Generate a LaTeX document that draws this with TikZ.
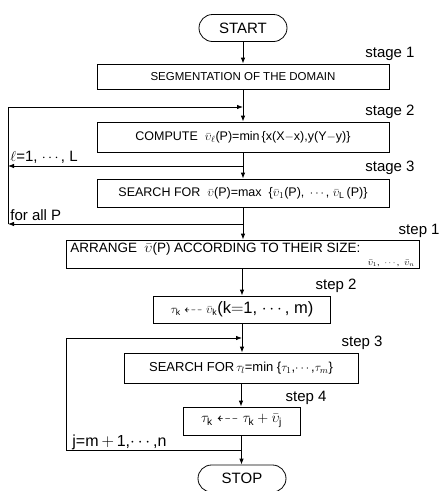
\documentclass[tikz,border=0pt]{standalone}
\usepackage{amsmath,amssymb}
\usepackage{fontspec}
\setmainfont{Liberation Sans}
\usetikzlibrary{arrows.meta}

\begin{document}
\begin{tikzpicture}[x=1pt,y=-1pt,
  line width=0.8pt,
  box/.style={draw, inner sep=0pt, font=\fontsize{11.5}{13}\selectfont},
  term/.style={draw, inner sep=0pt, rounded corners=13.5pt,
    minimum width=88pt, minimum height=27pt, font=\fontsize{15}{17}\selectfont},
  lab/.style={inner sep=0pt, font=\fontsize{15}{17}\selectfont},
  arr/.style={-{Latex[length=6pt,width=4.5pt]}}
]
\useasboundingbox (0,0) rectangle (445,491);

% main column
\node[term] (start) at (243,28) {START};
\node[box, minimum width=292pt, minimum height=25pt] (b1) at (243,76.5)
  {SEGMENTATION OF THE DOMAIN};
\node[box, minimum width=292pt, minimum height=30pt, font=\fontsize{12.5}{14}\selectfont] (b2) at (243,137)
  {COMPUTE\ \ $\bar{\upsilon}_\ell$(P)=min\,\{x(X$-$x),y(Y$-$y)\}};
\node[box, minimum width=292pt, minimum height=28pt, font=\fontsize{12.5}{14}\selectfont] (b3) at (243,193)
  {SEARCH FOR \ $\bar{\upsilon}$(P)=max \ \{$\bar{\upsilon}_1$(P), \,$\cdots$, $\bar{\upsilon}_{\mathrm L}$\,(P)\}};
\node[box, minimum width=353pt, minimum height=28pt] (b4) at (242.5,254) {};
\node[box, minimum width=177pt, minimum height=27pt] (b5) at (242,309.5)
  {\fontsize{12.5}{14}\selectfont$\tau_{\mathrm k}\dashleftarrow\bar{\upsilon}_{\mathrm k}$\fontsize{16.5}{18}\selectfont(k$=$1, $\cdots$, m)};
\node[box, minimum width=234pt, minimum height=30pt, font=\fontsize{13}{15}\selectfont] (b6) at (241,368)
  {SEARCH FOR$\,\tau_l$=min \{$\tau_1$,$\cdots$,$\tau_m$\}};
\node[box, minimum width=117pt, minimum height=28pt] (b7) at (241.5,421)
  {\fontsize{14.5}{16}\selectfont$\tau_{\mathrm k}\dashleftarrow\tau_{\mathrm k}+\bar{\upsilon}_{\mathrm j}$};
\node[term] (stop) at (242,478.5) {STOP};

% two-line text of the sorting box
\node[inner sep=0pt, anchor=base west, font=\fontsize{13.5}{15}\selectfont] (b4a) at (70,252)
  {\makebox[290pt][s]{ARRANGE \ $\bar{\upsilon}$(P) ACCORDING TO THEIR SIZE:}};
\node[inner sep=0pt, anchor=base east, font=\fontsize{9}{10}\selectfont] (b4b) at (415,265)
  {$\bar{\upsilon}_1$, \ $\cdots$, \ $\bar{\upsilon}_n$};

% stage / step labels
\node[lab, anchor=base east] (s1) at (415,57) {stage 1};
\node[lab, anchor=base east] (s2) at (415,115) {stage 2};
\node[lab, anchor=base east] (s3) at (415,171) {stage 3};
\node[lab, anchor=base east] (p1) at (440,234) {step 1};
\node[lab, anchor=base east] (p2) at (357,289) {step 2};
\node[lab, anchor=base east] (p3) at (383,346) {step 3};
\node[lab, anchor=base east] (p4) at (327,401) {step 4};

% loop labels
\node[lab, anchor=base west] (l1) at (10,161) {$\ell$=1, $\cdots$, L};
\node[lab, anchor=base west] (l2) at (10,220) {for all P};
\node[lab, anchor=base west, font=\fontsize{16}{18}\selectfont] (l3) at (72,446) {j=m$\,+\,$1,$\cdots$,n};

% flow connectors
\draw[arr] (start) -- (b1);
\draw[arr] (b1) -- (b2);
\draw[arr] (b2) -- (b3);
\draw[arr] (b3) -- (b3 |- b4.north);
\draw[arr] (b4.south -| b5) -- (b5);
\draw[arr] (b5) -- (b5 |- b6.north);
\draw[arr] (b6) -- (b6 |- b7.north);
\draw[arr] (b7) -- (b7 |- stop.north);

% outer loops of stages 2 and 3
\coordinate (ltop) at (8,107);
\coordinate (jtop) at (243,107);
\coordinate (lmid) at (8,166);
\coordinate (jmid) at (243,166);
\coordinate (lbot) at (8,224);
\coordinate (jbot) at (243,224);
\draw[arr] (ltop) -- (jtop);
\draw (ltop) -- (lbot);
\draw[arr] (jmid) -- (lmid);
\draw[arr] (jbot) -- (lbot);

% loop of steps 3 and 4
\coordinate (ka) at (242,450);
\coordinate (kb) at (66,450);
\coordinate (kc) at (66,338);
\coordinate (kd) at (242,338);
\draw[arr] (ka) -- (kb) -- (kc) -- (kd);
\end{tikzpicture}
\end{document}
